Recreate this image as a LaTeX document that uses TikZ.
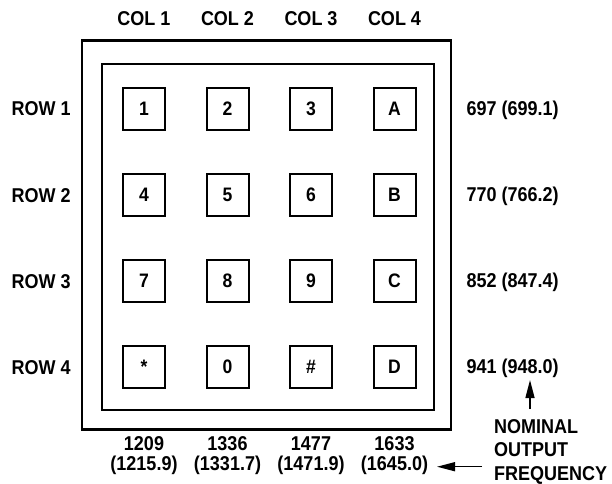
\documentclass[tikz,border=0pt]{standalone}
\usepackage{fontspec}
\setmainfont{Liberation Sans}
\newfontfamily\lblfont[FakeStretch=0.9]{Liberation Sans}
\usetikzlibrary{arrows.meta}
\begin{document}
\begin{tikzpicture}[x=1pt,y=-1pt,
  lbl/.style={font=\lblfont\fontsize{20}{19.5}\selectfont\bfseries, inner sep=0pt},
  keybox/.style={draw, line width=2pt, minimum size=42pt, inner sep=0pt,
    font=\lblfont\fontsize{19.5}{20}\selectfont\bfseries},
  frame/.style={draw, line width=2.4pt, inner sep=0pt},
  arr/.style={line width=1.4pt, -{Triangle[length=18pt,width=9pt]}}]
\useasboundingbox (0,0) rectangle (612,483);
\node[frame, minimum width=369pt, minimum height=389pt] (outer) at (266.5,234.9) {};
\node[frame, minimum width=332pt, minimum height=346pt] (inner) at (268.2,237) {};
% keys
\foreach \t [count=\i] in {1,2,3,A}{
  \pgfmathsetmacro\xx{{144,227.5,311,394.5}[\i-1]}
  \node[keybox] (k1\i) at (\xx,108.5) {\t};}
\foreach \t [count=\i] in {4,5,6,B}{
  \pgfmathsetmacro\xx{{144,227.5,311,394.5}[\i-1]}
  \node[keybox] (k2\i) at (\xx,194.7) {\t};}
\foreach \t [count=\i] in {7,8,9,C}{
  \pgfmathsetmacro\xx{{144,227.5,311,394.5}[\i-1]}
  \node[keybox] (k3\i) at (\xx,281) {\t};}
\foreach \t [count=\i] in {*,0,\#,D}{
  \pgfmathsetmacro\xx{{144,227.5,311,394.5}[\i-1]}
  \node[keybox] (k4\i) at (\xx,367) {\t};}
% column labels
\node[lbl] (c1) at (144,18.5) {COL 1};
\node[lbl] (c2) at (227.5,18.5) {COL 2};
\node[lbl] (c3) at (311,18.5) {COL 3};
\node[lbl] (c4) at (394.5,18.5) {COL 4};
% row labels
\node[lbl, anchor=west] (r1) at (11.5,109) {ROW 1};
\node[lbl, anchor=west] (r2) at (11.5,195.2) {ROW 2};
\node[lbl, anchor=west] (r3) at (11.5,281.5) {ROW 3};
\node[lbl, anchor=west] (r4) at (11.5,367.5) {ROW 4};
% row frequencies
\node[lbl, anchor=west] (f1) at (466.5,110) {697 (699.1)};
\node[lbl, anchor=west] (f2) at (466.5,196.2) {770 (766.2)};
\node[lbl, anchor=west] (f3) at (466.5,282.5) {852 (847.4)};
\node[lbl, anchor=west] (f4) at (466.5,368.5) {941 (948.0)};
% column frequencies
\node[lbl, align=center] (g1) at (144,455.5) {1209\\(1215.9)};
\node[lbl, align=center] (g2) at (227.5,455.5) {1336\\(1331.7)};
\node[lbl, align=center] (g3) at (311,455.5) {1477\\(1471.9)};
\node[lbl, align=center] (g4) at (394.5,455.5) {1633\\(1645.0)};
% nominal output frequency
\node[lbl, align=left, anchor=west, font=\lblfont\fontsize{20}{23.5}\selectfont\bfseries] (nom) at (494,451.5) {NOMINAL\\OUTPUT\\FREQUENCY};
\coordinate (upfrom) at (530,409);
\coordinate (upto) at (530,380);
\coordinate (lfrom) at (482,466.7);
\coordinate (lto) at (437,466.7);
\draw[arr] (upfrom) -- (upto);
\draw[arr] (lfrom) -- (lto);
\end{tikzpicture}
\end{document}
